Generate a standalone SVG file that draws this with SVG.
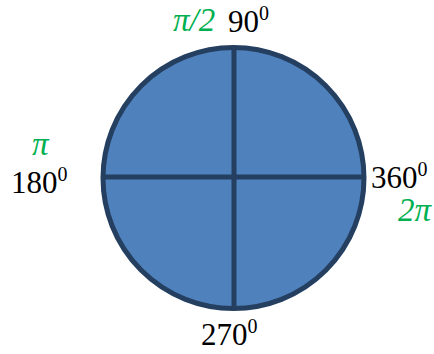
<svg xmlns="http://www.w3.org/2000/svg" width="434" height="354" viewBox="0 0 434 354">
<style>
.d{font-family:"Liberation Serif",serif;font-size:31px;fill:#000}
.d tspan{font-size:20px}
.g{font-family:"Liberation Serif",serif;font-size:33px;fill:#00b050;font-style:italic}
.ln{stroke:#243f60;stroke-width:5;fill:none}
</style>
<rect width="434" height="354" fill="#fff"/>
<g id="circle">
<circle cx="233.5" cy="178" r="130.5" fill="#4f81bd" stroke="#243f60" stroke-width="5"/>
</g>
<g id="connectors">
<line class="ln" x1="234" y1="46" x2="234" y2="310"/>
<line class="ln" x1="102" y1="177" x2="365" y2="177"/>
</g>
<g id="label-top">
<text class="g" x="173" y="31">π/2</text>
<text class="d" x="228" y="32">90<tspan dy="-12">0</tspan></text>
</g>
<g id="label-left">
<text class="g" x="32" y="155">π</text>
<text class="d" x="11" y="193">180<tspan dy="-12">0</tspan></text>
</g>
<g id="label-right">
<text class="d" x="371" y="188">360<tspan dy="-12">0</tspan></text>
<text class="g" x="398" y="221">2π</text>
</g>
<g id="label-bottom">
<text class="d" x="201" y="345">270<tspan dy="-12">0</tspan></text>
</g>
</svg>
